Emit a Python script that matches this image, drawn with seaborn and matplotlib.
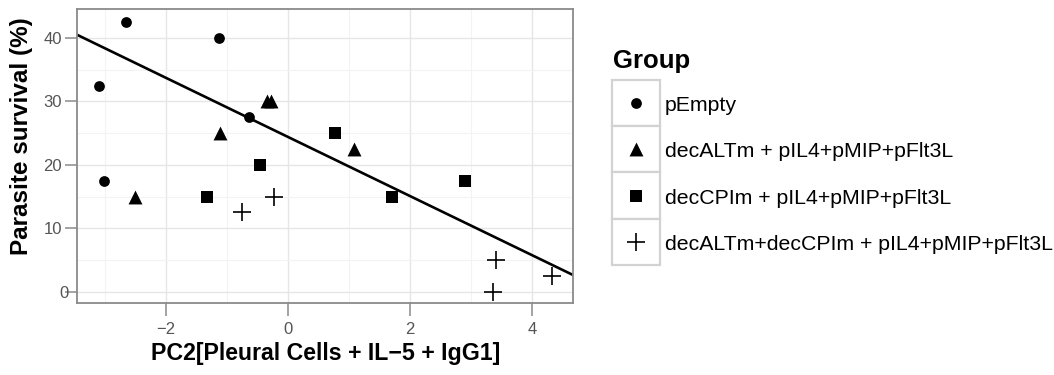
import matplotlib
matplotlib.use("Agg")
import matplotlib.pyplot as plt
import matplotlib.transforms as mtransforms
import seaborn as sns
import pandas as pd
from matplotlib.patches import Rectangle

# Group labels and marker shapes
groups = [
    "pEmpty",
    "decALTm + pIL4+pMIP+pFlt3L",
    "decCPIm + pIL4+pMIP+pFlt3L",
    "decALTm+decCPIm + pIL4+pMIP+pFlt3L",
]
markers = ["o", "^", "s", "+"]

# PC2 score and parasite survival per animal, by group
pc2_empty = [-2.65, -1.12, -3.10, -3.01, -0.63]
surv_empty = [42.5, 40.0, 32.5, 17.5, 27.5]

pc2_altm = [-2.50, -1.11, -0.34, -0.27, 1.08]
surv_altm = [15.0, 25.0, 30.0, 30.0, 22.5]

pc2_cpim = [-1.32, -0.46, 0.77, 1.71, 2.90]
surv_cpim = [15.0, 20.0, 25.0, 15.0, 17.5]

pc2_both = [-0.75, -0.23, 3.42, 3.36, 4.33]
surv_both = [12.5, 15.0, 5.0, 0.0, 2.5]

# Fitted trend line (survival = intercept + slope * PC2)
fit_intercept = 24.42
fit_slope = -4.66

x_ticks = [-2, 0, 2, 4]
y_ticks = [0, 10, 20, 30, 40]

pc2_all = [pc2_empty, pc2_altm, pc2_cpim, pc2_both]
surv_all = [surv_empty, surv_altm, surv_cpim, surv_both]

frames = []
for g, xs, ys in zip(groups, pc2_all, surv_all):
    frames.append(pd.DataFrame({"PC2": xs, "Survival": ys, "Group": g}))
df = pd.concat(frames, ignore_index=True)

sns.set_theme(style="whitegrid")
plt.rcParams["font.family"] = ["Liberation Sans", "DejaVu Sans"]

fig = plt.figure(figsize=(10.54, 3.75), dpi=100)
fig.patch.set_facecolor("white")
ax = fig.add_axes([0.0733, 0.1907, 0.4706, 0.7845])
ax.set_facecolor("white")

XLIM = (-3.45, 4.68)
YLIM = (-1.86, 44.53)

# Grid: major and minor lines in light grey
ax.set_xticks(x_ticks)
ax.set_yticks(y_ticks)
ax.set_xticks([-3, -1, 1, 3], minor=True)
ax.set_yticks([5, 15, 25, 35], minor=True)
ax.grid(which="major", color="#e6e6e6", linewidth=1.0)
ax.grid(which="minor", color="#f3f3f3", linewidth=0.8)
ax.set_axisbelow(True)
for s in ax.spines.values():
    s.set_color("#8a8a8a")
    s.set_linewidth(1.3)
ax.tick_params(axis="both", which="major", length=9, width=1.1, color="#8a8a8a",
               labelsize=12, labelcolor="#555555", bottom=True, left=True)
ax.tick_params(axis="y", which="major", pad=2)
ax.tick_params(axis="x", which="major", pad=4)
ax.tick_params(which="minor", length=0)

ax.set_xlim(*XLIM)
ax.set_ylim(*YLIM)

# Trend line across the whole panel
ax.axline((0, fit_intercept), slope=fit_slope, color="black", linewidth=1.9,
          zorder=2)

size_map = {"o": 60, "^": 100, "s": 66, "+": 150}
for g, m in zip(groups, markers):
    sub = df[df["Group"] == g]
    if m == "+":
        sns.scatterplot(data=sub, x="PC2", y="Survival", marker=m, s=size_map[m],
                        color="black", linewidth=1.2, ax=ax, legend=False,
                        zorder=3)
    else:
        sns.scatterplot(data=sub, x="PC2", y="Survival", marker=m, s=size_map[m],
                        color="black", edgecolor="black", linewidth=0, ax=ax,
                        legend=False, zorder=3)

ax.set_xlim(*XLIM)
ax.set_ylim(*YLIM)
ax.set_xlabel("PC2[Pleural Cells + IL\u22125 + IgG1]", fontsize=16.7,
              fontweight="bold", labelpad=4, color="black")
ax.set_ylabel("Parasite survival (%)", fontsize=17.5, fontweight="bold",
              color="black")
ax.yaxis.set_label_coords(-0.089, 0.569)

# The single-digit "0" label sits a little to the right, over its tick
fig.canvas.draw()
for lab in ax.get_yticklabels():
    if lab.get_text() == "0":
        lab.set_transform(lab.get_transform() +
                          mtransforms.ScaledTranslation(0.065, 0, fig.dpi_scale_trans))

# Legend drawn as boxed keys, one row per group
lax = fig.add_axes([0, 0, 1, 1], facecolor="none")
lax.set_xlim(0, 1054)
lax.set_ylim(375, 0)
lax.axis("off")
lax.text(613, 68, "Group", fontsize=18.5, fontweight="bold", ha="left",
         va="baseline", color="black")
key_top, key_h, key_left, key_w = 79.5, 46.4, 612, 48
for i, (g, m) in enumerate(zip(groups, markers)):
    y0 = key_top + i * key_h
    lax.add_patch(Rectangle((key_left, y0), key_w, key_h, facecolor="white",
                            edgecolor="#d2d2d2", linewidth=1.6))
    cy = y0 + key_h / 2
    if m == "+":
        lax.scatter([key_left + key_w / 2], [cy], marker=m, s=size_map[m],
                    color="black", linewidth=1.2)
    else:
        lax.scatter([key_left + key_w / 2], [cy], marker=m, s=size_map[m],
                    color="black", linewidth=0)
    lax.text(key_left + key_w + 5, cy + 8, g, fontsize=15.3, ha="left",
             va="baseline", color="black")

fig.savefig("out.png", dpi=100, facecolor="white")
